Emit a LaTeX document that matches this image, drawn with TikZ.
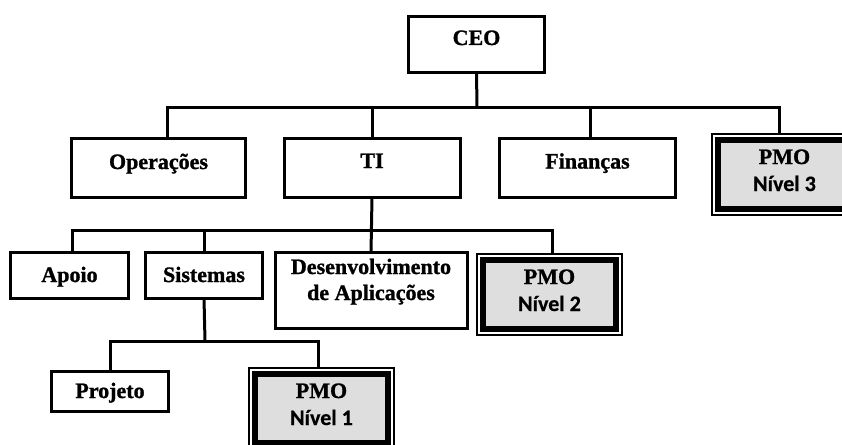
\documentclass[tikz,border=0pt]{standalone}
\usepackage{fontspec}
\setmainfont{Liberation Serif}[BoldFeatures={FakeBold=1.2}]
\newfontfamily\calib{Carlito}[BoldFeatures={FakeBold=0.6}]
\definecolor{pmofill}{RGB}{222,222,222}
\begin{document}
\begin{tikzpicture}[x=1pt, y=-1pt,
  unitbox/.style={draw, line width=3pt, fill=white, inner sep=0pt, outer sep=0pt},
  pmobox/.style={draw, line width=1.5pt, fill=white, inner sep=0pt, outer sep=0pt,
                 minimum width=145pt, minimum height=81pt},
  conn/.style={line width=3pt},
  lbl/.style={font=\bfseries\fontsize{22}{26}\selectfont, inner sep=0pt, anchor=base},
  lvl/.style={font=\calib\bfseries\fontsize{22}{26}\selectfont, inner sep=0pt, anchor=base}]
\useasboundingbox (0,0) rectangle (842,444);
\clip (0,0) rectangle (842,444);

% inner thick frame of a PMO box
\newcommand{\pmoframe}[1]{%
  \draw[line width=5.5pt, fill=pmofill]
    ([xshift=5.8pt,yshift=-5.8pt]#1.north west) rectangle ([xshift=-5.8pt,yshift=5.8pt]#1.south east);}

% level 0
\node[unitbox, minimum width=136pt, minimum height=56pt] (ceo) at (476.5,44.5) {};
% level 1
\node[unitbox, minimum width=174pt, minimum height=59pt] (ops) at (158.5,168) {};
\node[unitbox, minimum width=176pt, minimum height=59pt] (ti)  at (372,168) {};
\node[unitbox, minimum width=176pt, minimum height=59pt] (fin) at (587.5,168) {};
\node[pmobox] (p3) at (784.5,174.5) {};
\pmoframe{p3}
% level 2
\node[unitbox, minimum width=118pt, minimum height=46pt] (apoio) at (69.5,275.5) {};
\node[unitbox, minimum width=117pt, minimum height=46pt] (sis)   at (204,275.5) {};
\node[unitbox, minimum width=192pt, minimum height=76pt] (dev)   at (371,290.5) {};
\node[pmobox] (p2) at (549.5,294.5) {};
\pmoframe{p2}
% level 3
\node[unitbox, minimum width=117pt, minimum height=40pt] (proj) at (110,391.5) {};
\node[pmobox] (p1) at (321.5,408.5) {};
\pmoframe{p1}

% labels
\node[lbl] (ceo-t) at ([yshift=-28.5pt]ceo.north) {CEO};
\node[lbl] (ops-t) at ([yshift=-30.5pt]ops.north) {Operações};
\node[lbl] (ti-t)  at ([yshift=-29.5pt]ti.north) {TI};
\node[lbl] (fin-t) at ([yshift=-30pt]fin.north) {Finanças};
\node[lbl] (apoio-t) at ([yshift=-29.5pt]apoio.north) {Apoio};
\node[lbl] (sis-t)   at ([yshift=-29.5pt]sis.north) {Sistemas};
\node[lbl] (dev-t1)  at ([yshift=-21.5pt]dev.north) {Desenvolvimento};
\node[lbl] (dev-t2)  at ([yshift=-47.5pt]dev.north) {de Aplicações};
\node[lbl] (proj-t)  at ([yshift=-26.5pt]proj.north) {Projeto};
\foreach \p/\n in {p3/3, p2/2, p1/1}{
  \node[lbl] (\p-t1) at ([yshift=-30pt]\p.north) {PMO};
  \node[lvl] (\p-t2) at ([yshift=-57pt]\p.north) {Nível \n};
}

% connectors
\coordinate (bar1) at (477,107);
\coordinate (bar2) at (372,230);
\coordinate (bar3) at (205,341);
\draw[conn] (ceo.south) -- (bar1);
\draw[conn] ([xshift=8.5pt]ops.north) |- (bar1) -| ([xshift=-5.5pt]p3.north);
\draw[conn] (ti.north) -- (ti.north |- bar1);
\draw[conn] ([xshift=2.5pt]fin.north) -- ([xshift=2.5pt]fin.north |- bar1);
\draw[conn] (ti.south) -- (dev.north);
\draw[conn] ([xshift=2.5pt]apoio.north) |- (bar2) -| ([xshift=2.5pt]p2.north);
\draw[conn] (sis.north) -- (sis.north |- bar2);
\draw[conn] (sis.south) -- (bar3);
\draw[conn] (proj.north) |- (bar3) -| ([xshift=-3.5pt]p1.north);
\end{tikzpicture}
\end{document}
